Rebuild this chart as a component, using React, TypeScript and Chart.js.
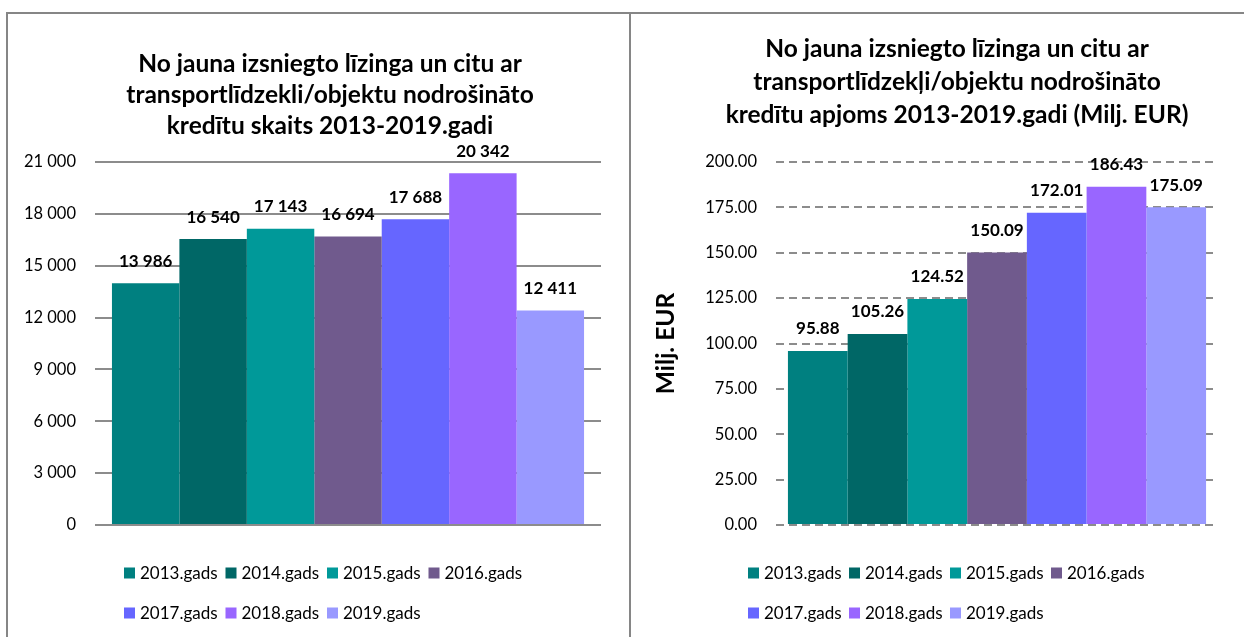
import React, { useEffect, useRef } from 'react';
import { Chart, registerables } from 'chart.js';

Chart.register(...registerables);

// ---------- data ----------
const categories = [''];
const seriesLabels = ['2013.gads', '2014.gads', '2015.gads', '2016.gads', '2017.gads', '2018.gads', '2019.gads'];
const seriesColors = ['#008080', '#006766', '#009999', '#705A8D', '#6666FF', '#9966FF', '#9999FF'];

const countValues = [13986, 16540, 17143, 16694, 17688, 20342, 12411];
const volumeValues = [95.88, 105.26, 124.52, 150.09, 172.01, 186.43, 175.09];

const countTitle = [
  'No jauna izsniegto līzinga un citu ar',
  'transportlīdzekli/objektu nodrošināto',
  'kredītu skaits 2013-2019.gadi',
];
const volumeTitle = [
  'No jauna izsniegto līzinga un citu ar',
  'transportlīdzekļi/objektu nodrošināto',
  'kredītu apjoms 2013-2019.gadi (Milj. EUR)',
];
const volumeAxisTitle = 'Milj. EUR';

const countAxis = { min: 0, max: 21000, step: 3000 };
const volumeAxis = { min: 0, max: 200, step: 25 };

// ---------- helpers ----------
const FONT = 'Lato';
const GRID = '#8c8c8c';
const TITLE_SIZE = 24.5;

const fmtCount = (v: number) => String(Math.round(v)).replace(/\B(?=(\d{3})+(?!\d))/g, ' ');
const fmtVolume = (v: number) => Number(v).toFixed(2);

function makeValueLabels(format: (v: number) => string, offset: number) {
  return {
    id: 'valueLabels',
    afterDatasetsDraw(chart: any) {
      const ctx = chart.ctx;
      ctx.save();
      ctx.font = `bold 17px ${FONT}`;
      ctx.fillStyle = '#000';
      ctx.textAlign = 'center';
      ctx.textBaseline = 'middle';
      chart.data.datasets.forEach((ds: any, i: number) => {
        const meta = chart.getDatasetMeta(i);
        meta.data.forEach((bar: any, j: number) => {
          ctx.fillText(format(ds.data[j]), bar.x, bar.y - offset);
        });
      });
      ctx.restore();
    },
  };
}

function makeLegend(left: number, stride: number, rows: number[], perRow: number) {
  return {
    id: 'gridLegend',
    afterDraw(chart: any) {
      const ctx = chart.ctx;
      ctx.save();
      ctx.font = `17px ${FONT}`;
      ctx.textAlign = 'left';
      ctx.textBaseline = 'middle';
      chart.data.datasets.forEach((ds: any, i: number) => {
        const row = Math.floor(i / perRow);
        const col = i % perRow;
        const x = left + col * stride;
        const y = rows[row];
        ctx.fillStyle = ds.backgroundColor;
        ctx.fillRect(x, y - 5.5, 11, 11);
        ctx.fillStyle = '#000';
        ctx.fillText(ds.label, x + 16, y + 1);
      });
      ctx.restore();
    },
  };
}

function buildDatasets(values: number[]) {
  return seriesLabels.map((label, i) => ({
    label,
    data: [values[i]],
    backgroundColor: seriesColors[i],
    borderWidth: 0,
  }));
}

type PanelProps = {
  left: number;
  width: number;
  values: number[];
  title: string[];
  titleLine: number;
  titlePadTop: number;
  titlePadBottom: number;
  axis: { min: number; max: number; step: number };
  format: (v: number) => string;
  axisWidth: number;
  rightPad: number;
  catPct: number;
  dashed: boolean;
  axisTitle?: string;
  legendLeft: number;
  legendStride: number;
};

function Panel(p: PanelProps) {
  const ref = useRef<HTMLCanvasElement | null>(null);
  useEffect(() => {
    if (!ref.current) return;
    const chart = new Chart(ref.current, {
      type: 'bar',
      data: { labels: categories, datasets: buildDatasets(p.values) as any },
      options: {
        responsive: false,
        animation: false,
        devicePixelRatio: 1,
        layout: { padding: { top: 0, left: 0, right: 0, bottom: 112 } },
        datasets: { bar: { barPercentage: 1, categoryPercentage: p.catPct } },
        plugins: {
          legend: { display: false },
          tooltip: { enabled: false },
          title: {
            display: true,
            text: p.title,
            color: '#000',
            font: { family: FONT, size: TITLE_SIZE, weight: 'bold', lineHeight: p.titleLine / TITLE_SIZE },
            padding: { top: p.titlePadTop, bottom: p.titlePadBottom },
          },
        },
        scales: {
          x: { display: false },
          y: {
            min: p.axis.min,
            max: p.axis.max,
            ticks: {
              stepSize: p.axis.step,
              padding: 19,
              color: '#000',
              font: { family: FONT, size: 16.5 },
              callback: (v: any) => p.format(Number(v)),
            },
            grid: { color: GRID, lineWidth: 2, drawTicks: false },
            border: { display: false, dash: p.dashed ? [8, 5] : [] },
            title: p.axisTitle
              ? {
                  display: true,
                  text: p.axisTitle,
                  color: '#000',
                  font: { family: FONT, size: 24.5, weight: 'bold' },
                  padding: { top: 17, bottom: 0 },
                }
              : { display: false },
            afterFit: (s: any) => {
              s.width = p.axisWidth;
            },
          },
          pad: {
            position: 'right',
            display: true,
            grid: { display: false, drawOnChartArea: false, drawTicks: false },
            ticks: { display: false },
            border: { display: false },
            afterFit: (s: any) => {
              s.width = p.rightPad;
            },
          },
        } as any,
      },
      plugins: [makeValueLabels(p.format, 22), makeLegend(p.legendLeft, p.legendStride, [573, 613], 4)],
    });
    return () => chart.destroy();
  }, []);
  return (
    <canvas
      ref={ref}
      width={p.width}
      height={637}
      style={{ position: 'absolute', left: p.left, top: 0, width: p.width, height: 637 }}
    />
  );
}

export default function App() {
  return (
    <div
      style={{
        position: 'fixed',
        left: 0,
        top: 0,
        width: 1244,
        height: 637,
        overflow: 'hidden',
        background: '#fff',
      }}
    >
      <Panel
        left={8}
        width={644}
        values={countValues}
        title={countTitle}
        titleLine={31}
        titlePadTop={48.5}
        titlePadBottom={20.5}
        axis={countAxis}
        format={fmtCount}
        axisWidth={87}
        rightPad={51}
        catPct={0.933}
        dashed={false}
        legendLeft={116}
        legendStride={101.5}
      />
      <Panel
        left={634}
        width={646}
        values={volumeValues}
        title={volumeTitle}
        titleLine={33}
        titlePadTop={32.5}
        titlePadBottom={30.5}
        axis={volumeAxis}
        format={fmtVolume}
        axisWidth={142}
        rightPad={62}
        catPct={0.946}
        dashed={true}
        axisTitle={volumeAxisTitle}
        legendLeft={114}
        legendStride={101}
      />
      <div style={{ position: 'absolute', left: 6, top: 12, width: 1238, height: 2, background: '#868686' }} />
      <div style={{ position: 'absolute', left: 6, top: 12, width: 2, height: 625, background: '#868686' }} />
      <div style={{ position: 'absolute', left: 629, top: 12, width: 2, height: 625, background: '#868686' }} />
    </div>
  );
}
